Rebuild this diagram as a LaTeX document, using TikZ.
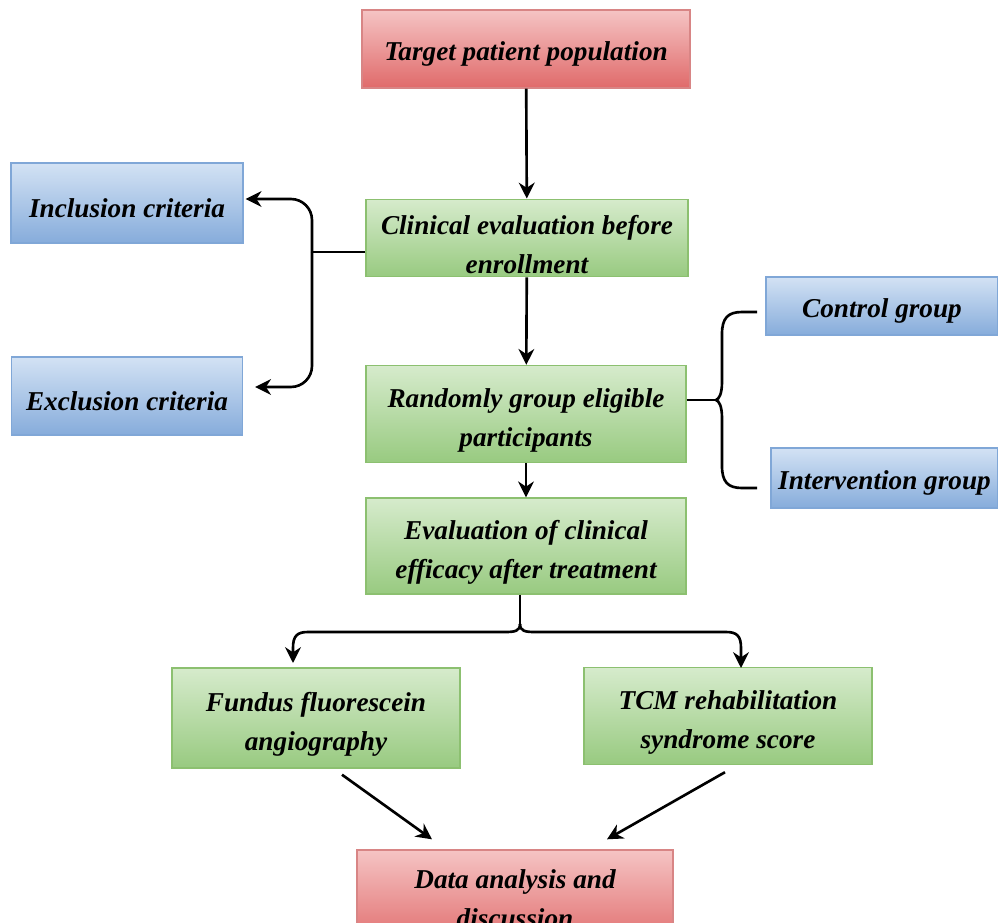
\documentclass[tikz,border=0pt]{standalone}
\usepackage{fontspec}
\setmainfont{Liberation Serif}
\usepackage{tikz}
\usetikzlibrary{arrows.meta, calc}

\definecolor{redtop}{HTML}{F5C4C4}
\definecolor{redbot}{HTML}{E06A6A}
\definecolor{redline}{HTML}{D88585}
\definecolor{greentop}{HTML}{D6EBCC}
\definecolor{greenbot}{HTML}{98CA80}
\definecolor{greenline}{HTML}{8CC070}
\definecolor{bluetop}{HTML}{D3E2F4}
\definecolor{bluebot}{HTML}{86ACDB}
\definecolor{blueline}{HTML}{80A7D7}

\newcommand{\lift}{\rule{0pt}{18pt}}

\tikzstyle{arrow} = [line width=1.5pt,-{Stealth[length=9pt,width=9pt]}]
\tikzstyle{line} = [line width=1.5pt]
\tikzstyle{box} = [draw, line width=0.8pt, align=center, inner sep=2pt,
  font=\fontsize{15.5}{22}\selectfont\bfseries\itshape,
  execute at begin node={\rule{0pt}{16.5pt}}]
\tikzstyle{redbox} = [box, draw=redline, top color=redtop, bottom color=redbot]
\tikzstyle{greenbox} = [box, draw=greenline, top color=greentop, bottom color=greenbot]
\tikzstyle{bluebox} = [box, draw=blueline, top color=bluetop, bottom color=bluebot]

\begin{document}
\begin{tikzpicture}[x=0.02cm,y=-0.02cm]
	\clip (0,0) rectangle (998,923);
	\fill[white] (0,0) rectangle (998,923);
	
	% Main column:
	\node[redbox, minimum width=6.56cm, minimum height=1.56cm] (target) at (526,49) {Target patient population};
	\node[greenbox, minimum width=6.44cm, minimum height=1.54cm] (clin) at (527,238) {\lift Clinical evaluation before\\enrollment};
	\node[greenbox, minimum width=6.4cm, minimum height=1.94cm] (rand) at (526,414) {\lift Randomly group eligible\\participants};
	\node[greenbox, minimum width=6.4cm, minimum height=1.92cm] (eval) at (526,546) {\lift Evaluation of clinical\\efficacy after treatment};
	\node[greenbox, minimum width=5.76cm, minimum height=2cm] (fund) at (316,718) {\lift Fundus fluorescein\\angiography};
	\node[greenbox, minimum width=5.76cm, minimum height=1.94cm] (tcm) at (728,716) {\lift TCM rehabilitation\\syndrome score};
	\node[redbox, minimum width=6.32cm, minimum height=1.96cm] (data) at (515,899) {Data analysis and\\discussion};
	
	% Side boxes:
	\node[bluebox, minimum width=4.64cm, minimum height=1.6cm] (incl) at (127,203) {Inclusion criteria};
	\node[bluebox, minimum width=4.62cm, minimum height=1.56cm] (excl) at (127,396) {Exclusion criteria};
	\node[bluebox, minimum width=4.64cm, minimum height=1.16cm] (ctrl) at (882,306) {Control group};
	\node[bluebox, minimum width=4.54cm, minimum height=1.2cm] (intv) at (884.5,478) {Intervention group};
	
	% Straight arrows:
	\draw[arrow] (target) -- (clin);
	\draw[arrow] (clin) -- (rand);
	\draw[arrow] (rand) -- (eval);
	
	% Left fork:
	\coordinate (lfork) at (312,252);
	\draw[line] ($(clin.west)+(0,14)$) -- (lfork);
	\draw[arrow, rounded corners=12pt] (lfork) |- ($(incl.east)+(2,-4)$);
	\draw[arrow, rounded corners=12pt] (lfork) |- ($(excl.east)+(12,-9)$);
	
	% Right brace:
	\coordinate (rtip) at (716,400);
	\coordinate (ctop) at (757,312);
	\coordinate (cbot) at (757,488);
	\draw[line] (rand.east |- rtip) -- (rtip);
	\draw[line] (ctop) -- (742,312) .. controls (728,312) and (722,318) .. (722,334)
		-- (722,382) .. controls (722,394) and (719,399) .. (rtip);
	\draw[line] (cbot) -- (742,488) .. controls (728,488) and (722,482) .. (722,466)
		-- (722,418) .. controls (722,406) and (719,401) .. (rtip);
	
	% Bottom brace:
	\coordinate (btip) at (520,624);
	\coordinate (bleft) at (293,663);
	\coordinate (bright) at (741,668);
	\draw[line] (eval.south -| btip) -- (btip);
	\draw[arrow] (btip) .. controls (520,631) and (515,632) .. (505,632)
		-- (308,632) .. controls (297,632) and (293,636) .. (293,648) -- (bleft);
	\draw[arrow] (btip) .. controls (520,631) and (525,632) .. (535,632)
		-- (726,632) .. controls (737,632) and (741,636) .. (741,648) -- (bright);
	
	% Converging arrows:
	\draw[arrow] ($(fund.south)+(26,6)$) -- ($(data.north)+(-83,-10)$);
	\draw[arrow] ($(tcm.south)+(-3,7)$) -- ($(data.north)+(92,-10)$);
\end{tikzpicture}
\end{document}
